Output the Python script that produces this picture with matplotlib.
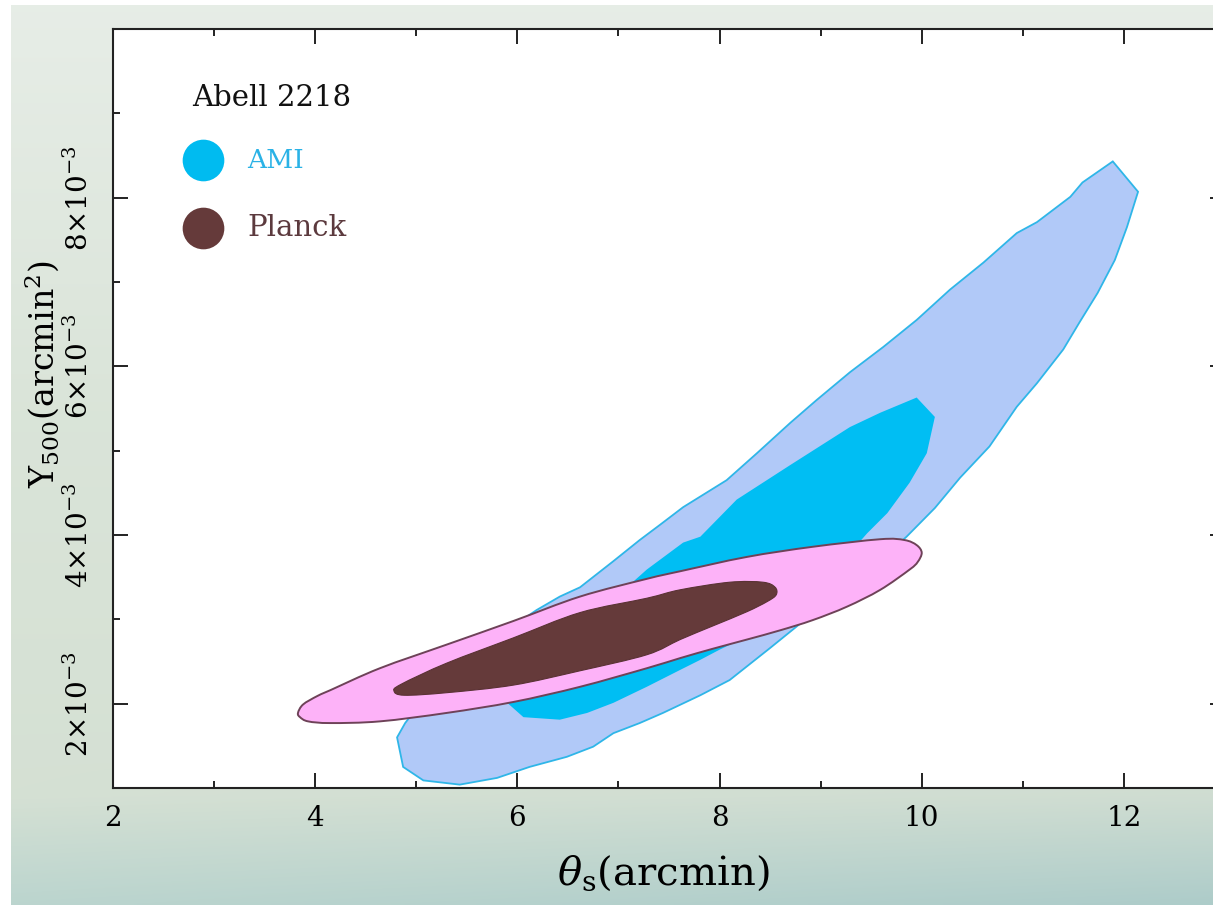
import numpy as np
import matplotlib
matplotlib.use("Agg")
import matplotlib.pyplot as plt
from matplotlib.path import Path
from matplotlib.patches import PathPatch
from matplotlib.ticker import MultipleLocator, FuncFormatter

plt.rcParams["font.family"] = ["DejaVu Serif"]
plt.rcParams["mathtext.fontset"] = "dejavuserif"

# Credible-region outlines: theta_s (arcmin) and Y500 (units of 1e-3 arcmin^2)
ami_outer_x = [11.89, 12.14, 12.03, 11.91, 11.74, 11.56, 11.40, 11.14, 10.94, 10.67,
               10.38, 10.13, 9.85, 9.49, 9.19, 8.84, 8.50, 8.10, 7.81, 7.44,
               7.21, 6.95, 6.75, 6.49, 6.12, 5.80, 5.43, 5.07, 4.87, 4.81,
               4.89, 5.14, 5.53, 5.93, 6.19, 6.42, 6.62, 6.95, 7.21, 7.41,
               7.64, 8.07, 8.37, 8.70, 8.96, 9.29, 9.62, 9.95, 10.28, 10.61,
               10.94, 11.14, 11.47, 11.59]
ami_outer_y = [8.43, 8.07, 7.65, 7.26, 6.87, 6.52, 6.20, 5.80, 5.52, 5.05,
               4.68, 4.32, 3.98, 3.59, 3.29, 2.99, 2.66, 2.28, 2.10, 1.89,
               1.77, 1.65, 1.49, 1.37, 1.25, 1.12, 1.04, 1.09, 1.25, 1.60,
               1.77, 2.16, 2.58, 2.90, 3.11, 3.27, 3.38, 3.69, 3.94, 4.12,
               4.33, 4.65, 4.97, 5.33, 5.60, 5.93, 6.23, 6.55, 6.91, 7.23,
               7.58, 7.71, 8.01, 8.18]

ami_inner_x = [9.95, 10.13, 10.05, 9.88, 9.66, 9.46, 9.19, 8.80, 8.40, 8.00,
               7.81, 7.61, 7.28, 6.95, 6.69, 6.42, 6.06, 5.90, 6.12, 6.62,
               7.14, 7.28, 7.64, 7.81, 8.17, 8.70, 9.29, 9.59]
ami_inner_y = [5.63, 5.40, 4.97, 4.62, 4.26, 4.02, 3.65, 3.23, 2.87, 2.64,
               2.52, 2.40, 2.20, 2.01, 1.89, 1.81, 1.84, 2.01, 2.40, 2.99,
               3.44, 3.59, 3.91, 3.98, 4.42, 4.83, 5.28, 5.45]

planck_outer_x = [3.83, 3.88, 4.02, 4.15, 4.64, 5.30, 5.96, 6.62, 7.28, 7.61, 8.27,
                  8.92, 9.59, 9.83, 9.95, 10.00, 9.96, 9.88, 9.59, 9.26, 8.92,
                  8.60, 8.27, 7.93, 7.61, 7.28, 6.62, 5.96, 5.30, 4.64, 4.15,
                  3.93, 3.85]
planck_outer_y = [1.89, 1.99, 2.09, 2.16, 2.42, 2.70, 2.98, 3.27, 3.48, 3.57, 3.74,
                  3.86, 3.95, 3.94, 3.88, 3.79, 3.68, 3.59, 3.35, 3.15, 2.99,
                  2.87, 2.76, 2.65, 2.54, 2.42, 2.20, 2.02, 1.89, 1.79, 1.77,
                  1.79, 1.84]

planck_inner_x = [4.78, 4.85, 5.30, 5.96, 6.62, 7.28, 7.61, 8.10, 8.43, 8.55,
                  8.56, 8.47, 8.27, 7.93, 7.61, 7.28, 6.62, 5.96, 5.30, 4.88]
planck_inner_y = [2.15, 2.23, 2.48, 2.78, 3.08, 3.25, 3.35, 3.44, 3.44, 3.38,
                  3.29, 3.21, 3.09, 2.92, 2.76, 2.58, 2.39, 2.22, 2.13, 2.10]

x_major = [2, 4, 6, 8, 10, 12]
y_major = [2, 4, 6, 8]
cluster_name = "Abell 2218"
series_names = ["AMI", "Planck"]


def smooth_closed_path(xs, ys):
    """Closed Catmull-Rom curve through the outline points, as cubic Bezier segments."""
    p = np.column_stack([xs, ys])
    n = len(p)
    verts = [p[0]]
    codes = [Path.MOVETO]
    for i in range(n):
        p0, p1, p2, p3 = p[i - 1], p[i], p[(i + 1) % n], p[(i + 2) % n]
        verts += [p1 + (p2 - p0) / 6.0, p2 - (p3 - p1) / 6.0, p2]
        codes += [Path.CURVE4] * 3
    verts.append(p[0])
    codes.append(Path.CLOSEPOLY)
    return Path(verts, codes)


W, H = 1213, 905
fig = plt.figure(figsize=(W / 100, H / 100), dpi=100, facecolor="white")

# soft green-teal backdrop panel
bg = fig.add_axes([11 / W, 0, 1 - 11 / W, 900 / H], zorder=0)
gy = np.linspace(0, 1, 300)[:, None]
gx = np.linspace(0, 1, 400)[None, :]
top = np.array([0.905, 0.930, 0.905])
mid = np.array([0.855, 0.895, 0.850])
low = np.array([0.835, 0.880, 0.830])
bot = np.array([0.735, 0.835, 0.810])
botr = np.array([0.680, 0.800, 0.790])
img = np.zeros((300, 400, 3))
for k in range(3):
    v = np.interp(gy[:, 0], [0, 0.45, 0.88, 1.0], [top[k], mid[k], low[k], bot[k]])
    img[:, :, k] = v[:, None] + (botr[k] - bot[k]) * gx * np.clip((gy - 0.8) / 0.2, 0, 1)
bg.imshow(np.clip(img, 0, 1), aspect="auto", extent=[0, 1, 0, 1], interpolation="bilinear")
bg.set_axis_off()

ax = fig.add_axes([113 / W, (H - 788) / H, 1112 / W, 759 / H], zorder=1)
ax.set_facecolor("white")

ax.fill(ami_outer_x, ami_outer_y, facecolor="#b1c9f8", edgecolor="#2fb6e8", lw=1.3, zorder=2)
ax.fill(ami_inner_x, ami_inner_y, facecolor="#00bef3", edgecolor="none", zorder=3)
ax.add_patch(PathPatch(smooth_closed_path(planck_outer_x, planck_outer_y),
                       facecolor="#fdb2f8", edgecolor="#6e4258", lw=1.4, zorder=4))
ax.add_patch(PathPatch(smooth_closed_path(planck_inner_x, planck_inner_y),
                       facecolor="#653a3a", edgecolor="#5a3234", lw=0.8, zorder=5))

ax.set_xlim(2, 13.0)
ax.set_ylim(1, 10.0)
ax.set_xticks(x_major)
ax.set_yticks(y_major)
ax.xaxis.set_minor_locator(MultipleLocator(1))
ax.yaxis.set_minor_locator(MultipleLocator(1))
ax.yaxis.set_major_formatter(FuncFormatter(lambda v, p: r"$%d{\times}10^{-3}$" % v))

for s in ax.spines.values():
    s.set_linewidth(1.5)
    s.set_color("#222222")
ax.tick_params(which="both", direction="in", top=True, right=True, width=1.4, color="#222222")
ax.tick_params(which="major", length=10.5)
ax.tick_params(which="minor", length=5)
ax.tick_params(axis="x", which="major", labelsize=20, pad=12)
ax.tick_params(axis="y", which="major", labelsize=20, pad=14, labelrotation=90)
for lab in ax.get_yticklabels():
    lab.set_verticalalignment("center")

ax.set_xlabel(r"$\theta_{\rm s}$(arcmin)", fontsize=29)
ax.xaxis.set_label_coords(0.4946, -0.086)
ax.set_ylabel(r"Y$_{500}$(arcmin$^2$)", fontsize=24)
ax.yaxis.set_label_coords(-0.047, 0.545)

# key
ax.text(0.071, 0.909, cluster_name, transform=ax.transAxes, fontsize=21,
        va="center", ha="left", color="#111111")
ax.plot([0.081], [0.827], "o", transform=ax.transAxes, ms=30, color="#00bbf0",
        mec="none", clip_on=False, zorder=6)
ax.plot([0.081], [0.738], "o", transform=ax.transAxes, ms=30, color="#653a3a",
        mec="none", clip_on=False, zorder=6)
ax.text(0.121, 0.827, series_names[0], transform=ax.transAxes, fontsize=19,
        va="center", ha="left", color="#2ab2e6")
ax.text(0.121, 0.738, series_names[1], transform=ax.transAxes, fontsize=21,
        va="center", ha="left", color="#5c3a3e")

fig.savefig("out.png", dpi=100, facecolor="white")
